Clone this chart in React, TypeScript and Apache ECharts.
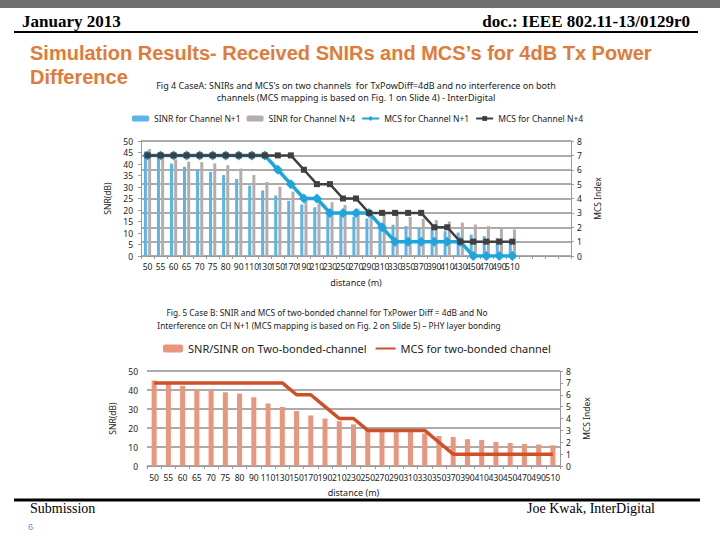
import React, { useEffect, useRef } from "react";
import * as echarts from "echarts";

const categories = ["50","55","60","65","70","75","80","90","110","130","150","170","190","210","230","250","270","290","310","330","350","370","390","410","430","450","470","490","510"];
const extraCats1 = ["e1","e2","e3","e4"];

const sinrN1 = [45.5,43,40.2,38.8,37.4,36.6,35.2,33.5,30.6,28.5,26.3,24,22.4,21.2,19.5,18.6,17.1,16.3,14,13.6,13,12.2,11.6,10.8,10.2,9.3,8.6,7.8,7.2];
const sinrN4 = [46.5,44.5,42,41,40.8,40.3,39.5,38,35.2,32.2,30.1,28,24.8,22.8,23.4,22.2,20.6,19.8,18.4,17.8,17,16.2,15.6,15,14.5,13.7,13,12.3,11.5];
const mcsN1 = [7,7,7,7,7,7,7,7,7,7,6,5,4,4,3,3,3,3,2,1,1,1,1,1,1,0,0,0,0];
const mcsN4 = [7,7,7,7,7,7,7,7,7,7,7,7,6,5,5,4,4,3,3,3,3,3,2,2,1,1,1,1,1];

const snrBonded = [45,43.3,42.2,40.5,40.1,38.8,38.1,36.2,32.9,31.1,28.9,26.6,25,23.6,21.9,19.7,18.8,18.4,17.9,17.1,15.8,15.3,14.1,13.7,12.7,12.1,11.6,11.3,10.9];
const mcsBonded = [7,7,7,7,7,7,7,7,7,7,6,6,5,4,4,3,3,3,3,3,2,1,1,1,1,1,1,1,1];

const NARROW = '"Liberation Sans Narrow", "Noto Sans", sans-serif';

export default function App() {
  const ref = useRef<HTMLDivElement>(null);
  useEffect(() => {
    if (!ref.current) return;
    const chart = echarts.init(ref.current, undefined, { renderer: "svg" });
    const axisLineStyle = { color: "#9a9a9a", width: 1 };
    const gridLine = { color: "#8f8f8f", width: 1.5 };
    const labelStyle = { fontSize: 8.5, color: "#222", fontFamily: NARROW };
    const t = (text: string, x: number, y: number, font: string, fill: string, align = "left") => ({
      type: "text",
      style: { text, x, y, font, fill, textAlign: align, align, textVerticalAlign: "middle", verticalAlign: "middle" },
    });
    const option: any = {
      animation: false,
      textStyle: { fontFamily: NARROW },
      graphic: [
        { type: "rect", shape: { x: 0, y: 0, width: 720, height: 8 }, style: { fill: "#6e6e6e" } },
        t("January 2013", 22, 21, 'bold 17px "Liberation Serif"', "#000"),
        t("doc.: IEEE 802.11-13/0129r0", 690, 21, 'bold 17px "Liberation Serif"', "#000", "right"),
        { type: "line", shape: { x1: 14, y1: 32, x2: 698, y2: 32 }, style: { stroke: "#000", lineWidth: 2 } },
        t("Simulation Results- Received SNIRs and MCS\u2019s for 4dB Tx Power", 30, 53, 'bold 20px "Liberation Sans"', "#e07b39"),
        t("Difference", 30, 77, 'bold 20px "Liberation Sans"', "#e07b39"),
        t("Fig 4 CaseA: SNIRs and MCS's on two channels  for TxPowDiff=4dB and no interference on both", 356, 85, '9px ' + NARROW, "#222", "center"),
        t("channels (MCS mapping is based on Fig. 1 on Slide 4) - InterDigital", 356, 97, '9px ' + NARROW, "#222", "center"),
        t("Fig. 5 Case B: SNIR and MCS of two-bonded channel for TxPower Diff = 4dB and No", 327, 312, '8.3px ' + NARROW, "#222", "center"),
        t("Interference on CH N+1 (MCS mapping is based on Fig. 2 on Slide 5) \u2013 PHY layer bonding", 329, 325, '8.3px ' + NARROW, "#222", "center"),
        { type: "line", shape: { x1: 14, y1: 500, x2: 700, y2: 500 }, style: { stroke: "#000", lineWidth: 3 } },
        t("Submission", 30, 508, '14px "Liberation Serif"', "#000"),
        t("Joe Kwak, InterDigital", 655, 508, '14px "Liberation Serif"', "#000", "right"),
        t("6", 28, 527, '9px "Liberation Sans"', "#3a9fd6"),
      ],
      legend: [
        {
          data: [
            "SINR for Channel N+1",
            "SINR for Channel N+4",
            "MCS for Channel N+1",
            "MCS for Channel N+4",
          ],
          left: 132, top: 114, padding: 0, itemWidth: 17, itemHeight: 6, itemGap: 6,
          textStyle: { fontSize: 8.5, color: "#222", fontFamily: NARROW },
        },
        {
          data: [
            "SNR/SINR on Two-bonded-channel",
            { name: "MCS for two-bonded channel", itemStyle: { opacity: 0 } },
          ],
          left: 163, top: 343, padding: 0, itemWidth: 20, itemHeight: 8, itemGap: 8,
          textStyle: { fontSize: 11, color: "#222", fontFamily: NARROW },
        },
      ],
      grid: [
        { left: 141, top: 141, width: 430, height: 115 },
        { left: 147, top: 371, width: 413, height: 95 },
      ],
      xAxis: [
        {
          type: "category", gridIndex: 0, data: [...categories, ...extraCats1],
          name: "distance (m)", nameLocation: "middle", nameGap: 22,
          nameTextStyle: { fontSize: 9, color: "#222", fontFamily: NARROW },
          axisLine: { lineStyle: axisLineStyle },
          axisTick: { show: true, lineStyle: axisLineStyle, length: 3 },
          axisLabel: { ...labelStyle, interval: 0, margin: 6, formatter: (v: string) => (v.startsWith("e") ? "" : v) },
        },
        {
          type: "category", gridIndex: 1, data: categories,
          name: "distance (m)", nameLocation: "middle", nameGap: 22,
          nameTextStyle: { fontSize: 9, color: "#222", fontFamily: NARROW },
          axisLine: { lineStyle: axisLineStyle },
          axisTick: { show: true, lineStyle: axisLineStyle, length: 3 },
          axisLabel: { ...labelStyle, interval: 0, margin: 7 },
        },
      ],
      yAxis: [
        {
          type: "value", gridIndex: 0, min: 0, max: 50, interval: 5,
          name: "SNR(dB)", nameLocation: "middle", nameGap: 24,
          nameTextStyle: { fontSize: 8.5, color: "#222", fontFamily: NARROW },
          axisLine: { show: true, lineStyle: axisLineStyle },
          axisTick: { show: true, lineStyle: axisLineStyle, length: 3 },
          splitLine: { show: false },
          axisLabel: { ...labelStyle, margin: 8 },
        },
        {
          type: "value", gridIndex: 0, min: 0, max: 8, interval: 1, position: "right",
          name: "MCS Index", nameLocation: "middle", nameGap: 18,
          nameTextStyle: { fontSize: 8.5, color: "#222", fontFamily: NARROW },
          axisLine: { show: true, lineStyle: axisLineStyle },
          axisTick: { show: true, lineStyle: axisLineStyle, length: 3 },
          splitLine: { show: true, lineStyle: gridLine },
          axisLabel: { ...labelStyle, margin: 6 },
        },
        {
          type: "value", gridIndex: 1, min: 0, max: 50, interval: 10,
          name: "SNR(dB)", nameLocation: "middle", nameGap: 22,
          nameTextStyle: { fontSize: 8.5, color: "#222", fontFamily: NARROW },
          axisLine: { show: false },
          axisTick: { show: false },
          splitLine: { show: true, lineStyle: gridLine },
          axisLabel: { ...labelStyle, margin: 9 },
        },
        {
          type: "value", gridIndex: 1, min: 0, max: 8, interval: 1, position: "right",
          name: "MCS Index", nameLocation: "middle", nameGap: 16,
          nameTextStyle: { fontSize: 8.5, color: "#222", fontFamily: NARROW },
          axisLine: { show: true, lineStyle: axisLineStyle },
          axisTick: { show: true, lineStyle: axisLineStyle, length: 3 },
          splitLine: { show: false },
          axisLabel: { ...labelStyle, margin: 6 },
        },
      ],
      series: [
        { name: "SINR for Channel N+1", type: "bar", xAxisIndex: 0, yAxisIndex: 0, data: sinrN1, barWidth: 3, barGap: "40%", itemStyle: { color: "#5bb5e6" } },
        { name: "SINR for Channel N+4", type: "bar", xAxisIndex: 0, yAxisIndex: 0, data: sinrN4, barWidth: 3, barGap: "40%", itemStyle: { color: "#b6acac" } },
        { name: "MCS for Channel N+1", type: "line", xAxisIndex: 0, yAxisIndex: 1, data: mcsN1, symbol: "diamond", symbolSize: 10, lineStyle: { color: "#1ea5dd", width: 3.5 }, itemStyle: { color: "#1ea5dd" }, z: 3 },
        { name: "MCS for Channel N+4", type: "line", xAxisIndex: 0, yAxisIndex: 1, data: mcsN4, symbol: "rect", symbolSize: 6, lineStyle: { color: "#3f3f3f", width: 2.5 }, itemStyle: { color: "#3f3f3f" }, z: 4 },
        { name: "SNR/SINR on Two-bonded-channel", type: "bar", xAxisIndex: 1, yAxisIndex: 2, data: snrBonded, barWidth: 5, itemStyle: { color: "#e9967c" } },
        { name: "MCS for two-bonded channel", type: "line", xAxisIndex: 1, yAxisIndex: 3, data: mcsBonded, symbol: "none", lineStyle: { color: "#cf4f27", width: 3.5 }, itemStyle: { color: "#cf4f27" }, z: 3 },
      ],
    };
    chart.setOption(option);
    return () => chart.dispose();
  }, []);
  return <div ref={ref} style={{ position: "fixed", left: 0, top: 0, width: 720, height: 540, background: "#fff" }} />;
}
